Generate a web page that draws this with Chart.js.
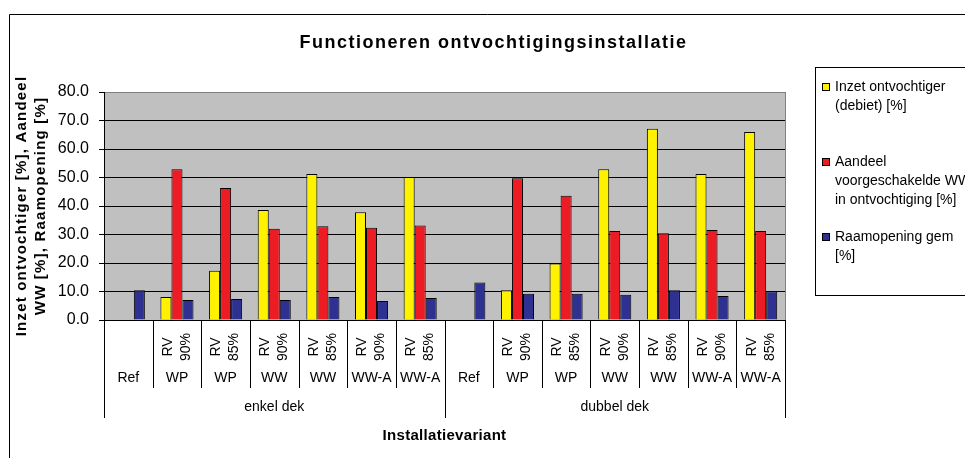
<!DOCTYPE html>
<html>
<head>
<meta charset="utf-8">
<script src="https://cdn.jsdelivr.net/npm/chart.js"></script>
<style>
html, body { margin: 0; padding: 0; background: #fff; }
#wrap { width: 965px; height: 458px; position: relative; }
</style>
</head>
<body>
<div id="wrap"><canvas id="chart"></canvas></div>
<script>
// categories (three label levels under the x axis)
const rvLabels = ['', 'RV 90%', 'RV 85%', 'RV 90%', 'RV 85%', 'RV 90%', 'RV 85%',
                  '', 'RV 90%', 'RV 85%', 'RV 90%', 'RV 85%', 'RV 90%', 'RV 85%']
const systemLabels = ['Ref', 'WP', 'WP', 'WW', 'WW', 'WW-A', 'WW-A',
                      'Ref', 'WP', 'WP', 'WW', 'WW', 'WW-A', 'WW-A']
const deckLabels = ['enkel dek', 'dubbel dek']
const deckSize = 7

// series values [%]
const inzet   = [null, 8.1, 17.3, 38.6, 51.2, 37.8, 50.2, null, 10.4, 19.8, 52.9, 67.1, 51.2, 66.0]
const aandeel = [null, 52.9, 46.3, 32.0, 32.9, 32.4, 33.2, null, 49.7, 43.6, 31.2, 30.4, 31.6, 31.2]
const raam    = [10.4, 7.0, 7.4, 7.0, 8.1, 6.7, 7.7, 13.2, 9.2, 9.2, 8.9, 10.4, 8.4, 10.1]

const seriesNames = ['Inzet ontvochtiger (debiet) [%]',
                     'Aandeel voorgeschakelde WW in ontvochtiging [%]',
                     'Raamopening gem [%]']
const legendLines = [['Inzet ontvochtiger', '(debiet) [%]'],
                     ['Aandeel', 'voorgeschakelde WW', 'in ontvochtiging [%]'],
                     ['Raamopening gem', '[%]']]
const seriesColors = ['#FFF200', '#ED1C24', '#2E3192']

const yMin = 0, yMax = 80, yStep = 10
const chartTitle = 'Functioneren ontvochtigingsinstallatie'
const yTitle = ['Inzet ontvochtiger [%], Aandeel', 'WW [%], Raamopening [%]']
const xTitle = 'Installatievariant'

const FONT = 'Arial, "Liberation Sans", sans-serif'

function text(ctx, str, x, y, font, align, spacing, rot) {
    ctx.save()
    ctx.translate(x, y)
    if (rot) ctx.rotate(rot)
    ctx.font = font
    ctx.fillStyle = '#000'
    ctx.textAlign = align || 'center'
    ctx.textBaseline = 'middle'
    ctx.letterSpacing = spacing || '0px'
    ctx.fillText(str, 0, 0)
    ctx.restore()
}

function line(ctx, x1, y1, x2, y2, color) {
    ctx.beginPath()
    ctx.moveTo(x1, y1)
    ctx.lineTo(x2, y2)
    ctx.strokeStyle = color || '#000'
    ctx.lineWidth = 1
    ctx.stroke()
}

const plotBg = {
    id: 'plotBg',
    beforeDraw(chart) {
        const { ctx, chartArea: a } = chart
        ctx.save()
        ctx.fillStyle = '#C0C0C0'
        ctx.fillRect(a.left, a.top, a.right - a.left, a.bottom - a.top)
        ctx.restore()
    }
}

const decorations = {
    id: 'decorations',
    afterDraw(chart) {
        const { ctx, chartArea: a } = chart
        const x = chart.scales.x
        const slot = x.getPixelForValue(1) - x.getPixelForValue(0)
        ctx.save()

        // plot border (right side)
        line(ctx, Math.round(a.right) + 0.5, a.top, Math.round(a.right) + 0.5, a.bottom, '#808080')

        // category table under the x axis
        const yAxis = Math.round(a.bottom)
        for (let i = 0; i <= systemLabels.length; i++) {
            const bx = Math.round(x.getPixelForValue(i) - slot / 2) + 0.5
            const isGroup = i % deckSize === 0
            line(ctx, bx, yAxis, bx, isGroup ? yAxis + 98 : yAxis + 68)
        }
        systemLabels.forEach((s, i) => {
            const cx = x.getPixelForValue(i)
            text(ctx, s, cx, yAxis + 58, '14px ' + FONT)
            if (rvLabels[i]) {
                const parts = rvLabels[i].split(' ')
                text(ctx, parts[0], cx - 9, yAxis + 27, '14px ' + FONT, 'center', '0px', -Math.PI / 2)
                text(ctx, parts[1], cx + 9, yAxis + 27, '14px ' + FONT, 'center', '0px', -Math.PI / 2)
            }
        })
        deckLabels.forEach((d, g) => {
            const c1 = x.getPixelForValue(g * deckSize)
            const c2 = x.getPixelForValue(g * deckSize + deckSize - 1)
            text(ctx, d, (c1 + c2) / 2, yAxis + 87, '14px ' + FONT)
        })

        // titles
        text(ctx, chartTitle, (a.left + a.right) / 2 + 49, 43, 'bold 18px ' + FONT, 'center', '1.5px')
        text(ctx, xTitle, (a.left + a.right) / 2, 436, 'bold 15px ' + FONT, 'center', '0.3px')
        const cy = (a.top + a.bottom) / 2
        text(ctx, yTitle[0], 22, cy, 'bold 15px ' + FONT, 'center', '1.2px', -Math.PI / 2)
        text(ctx, yTitle[1], 41, cy, 'bold 15px ' + FONT, 'center', '1.2px', -Math.PI / 2)

        // legend
        ctx.strokeStyle = '#000'
        ctx.lineWidth = 1
        ctx.strokeRect(815.5, 67.5, 200, 228)
        const starts = [87, 162, 237]
        legendLines.forEach((lines, k) => {
            ctx.fillStyle = seriesColors[k]
            ctx.fillRect(822.5, starts[k] - 3.5, 7, 7)
            ctx.strokeRect(822.5, starts[k] - 3.5, 7, 7)
            lines.forEach((l, j) => text(ctx, l, 835, starts[k] + j * 19, '14px ' + FONT, 'left'))
        })

        // outer frame
        line(ctx, 9.5, 14.5, 970, 14.5)
        line(ctx, 9.5, 14.5, 9.5, 460)
        ctx.restore()
    }
}

new Chart(document.getElementById('chart'), {
    type: 'bar',
    data: {
        labels: systemLabels.map((s, i) => (rvLabels[i] ? rvLabels[i] + ' ' : '') + s),
        datasets: [inzet, aandeel, raam].map((d, k) => ({
            label: seriesNames[k],
            data: d,
            backgroundColor: seriesColors[k],
            borderColor: '#000',
            borderWidth: 1,
            barPercentage: 1.0,
            categoryPercentage: 0.68
        }))
    },
    options: {
        responsive: true,
        maintainAspectRatio: false,
        animation: false,
        layout: { padding: { left: 0, top: 92, right: 180, bottom: 0 } },
        plugins: {
            legend: { display: false },
            title: { display: false },
            tooltip: { enabled: false }
        },
        scales: {
            x: {
                grid: { display: false },
                border: { display: true, color: '#000' },
                ticks: { display: false },
                afterFit: s => { s.height = 138 }
            },
            y: {
                min: yMin,
                max: yMax,
                ticks: {
                    stepSize: yStep,
                    padding: 10,
                    color: '#000',
                    font: { family: FONT, size: 16 },
                    callback: v => v.toFixed(1)
                },
                grid: {
                    color: c => (c.tick && c.tick.value === yMax ? '#808080' : '#000'),
                    tickColor: '#000',
                    tickLength: 5
                },
                border: { color: '#000' },
                afterFit: s => { s.width = 104 }
            }
        }
    },
    plugins: [plotBg, decorations]
})
</script>
</body>
</html>
